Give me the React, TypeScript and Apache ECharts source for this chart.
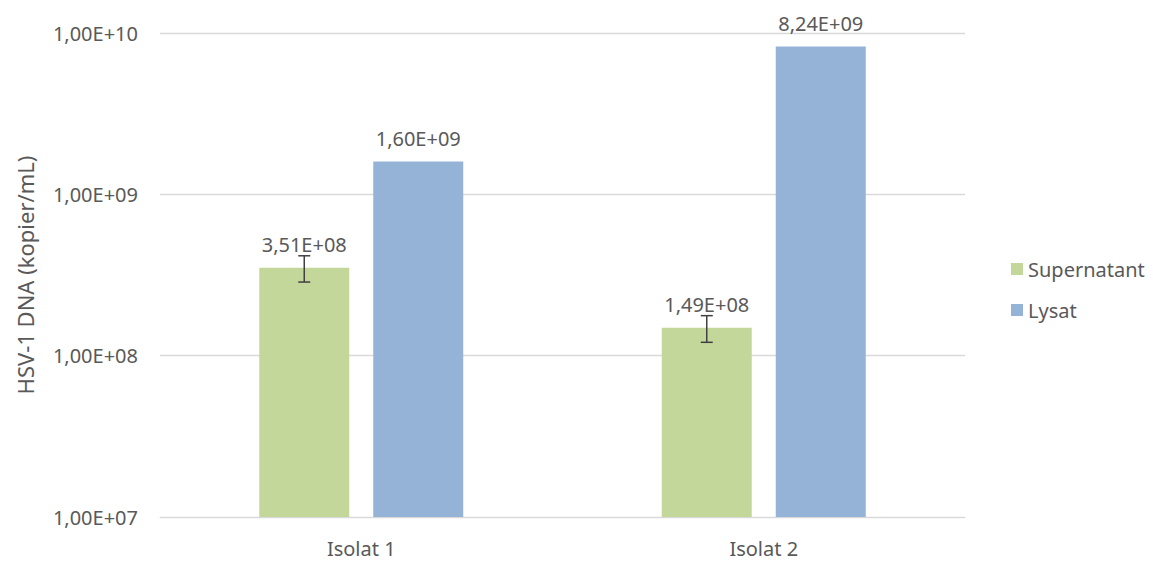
import React, { useEffect, useRef } from "react";
import * as echarts from "echarts";

const categories = ["Isolat 1", "Isolat 2"];
const supernatant = [3.51e8, 1.49e8];
const lysat = [1.6e9, 8.24e9];
const supernatantErr = [0.65e8, 0.28e8];
const seriesNames = ["Supernatant", "Lysat"];
const yTicks = [1e7, 1e8, 1e9, 1e10];

const FONT = "'Noto Sans', sans-serif";
const TEXT = "#595959";
const FS = 20;
const BAR_W = 90;
const BAR_GAP = 24;

function fmtSci(v: number): string {
  const e = Math.floor(Math.log10(v) + 1e-9);
  const m = v / Math.pow(10, e);
  const ms = m.toFixed(2).replace(".", ",");
  const es = (e < 10 ? "0" : "") + e;
  return ms + "E+" + es;
}

export default function App() {
  const ref = useRef<HTMLDivElement>(null);
  useEffect(() => {
    if (!ref.current) return;
    const chart = echarts.init(ref.current, undefined, { renderer: "svg" });
    const errData = categories.map((_, i) => [i, supernatant[i] - supernatantErr[i], supernatant[i] + supernatantErr[i]]);
    chart.setOption({
      animation: false,
      textStyle: { fontFamily: FONT },
      grid: { left: 160, right: 188, top: 33, bottom: 44 },
      legend: {
        orient: "vertical",
        left: 1006,
        top: 254,
        itemWidth: 12,
        itemHeight: 12,
        itemGap: 21,
        icon: "rect",
        textStyle: { color: TEXT, fontSize: FS, fontFamily: FONT },
        data: seriesNames,
      },
      xAxis: {
        type: "category",
        data: categories,
        axisLine: { lineStyle: { color: "#d9d9d9", width: 1 } },
        axisTick: { show: false },
        axisLabel: { color: TEXT, fontSize: FS, margin: 21, fontFamily: FONT },
      },
      yAxis: {
        type: "log",
        logBase: 10,
        min: yTicks[0],
        max: yTicks[yTicks.length - 1],
        name: "HSV-1 DNA (kopier/mL)",
        nameLocation: "middle",
        nameGap: 124,
        nameTextStyle: { color: TEXT, fontSize: 22, fontFamily: FONT },
        axisLine: { show: false },
        axisTick: { show: false },
        splitLine: { lineStyle: { color: "#d9d9d9", width: 1.3 } },
        axisLabel: {
          color: TEXT,
          fontSize: FS,
          margin: 22,
          fontFamily: FONT,
          formatter: (v: number) => fmtSci(v),
        },
      },
      series: [
        {
          name: seriesNames[0],
          type: "bar",
          data: supernatant,
          barWidth: BAR_W,
          barGap: (BAR_GAP / BAR_W) * 100 + "%",
          itemStyle: { color: "#C4D79B" },
          label: {
            show: true,
            position: "top",
            distance: 13,
            color: TEXT,
            fontSize: FS,
            fontFamily: FONT,
            formatter: (p: any) => fmtSci(p.value),
          },
        },
        {
          name: seriesNames[1],
          type: "bar",
          data: lysat,
          barWidth: BAR_W,
          itemStyle: { color: "#95B3D7" },
          label: {
            show: true,
            position: "top",
            distance: 13,
            color: TEXT,
            fontSize: FS,
            fontFamily: FONT,
            formatter: (p: any) => fmtSci(p.value),
          },
        },
        {
          type: "custom",
          name: "err",
          data: errData,
          z: 10,
          renderItem: (params: any, api: any) => {
            const idx = api.value(0);
            const lo = api.coord([idx, api.value(1)]);
            const hi = api.coord([idx, api.value(2)]);
            const x = lo[0] - (BAR_W + BAR_GAP) / 2;
            const cap = 6;
            const style = { stroke: "#404040", lineWidth: 1.5 };
            return {
              type: "group",
              children: [
                { type: "line", shape: { x1: x, y1: hi[1], x2: x, y2: lo[1] }, style },
                { type: "line", shape: { x1: x - cap, y1: hi[1], x2: x + cap, y2: hi[1] }, style },
                { type: "line", shape: { x1: x - cap, y1: lo[1], x2: x + cap, y2: lo[1] }, style },
              ],
            };
          },
        },
      ],
    });
    return () => chart.dispose();
  }, []);
  return <div ref={ref} style={{ width: 1153, height: 561, position: "absolute", left: 0, top: 0, background: "#fff" }} />;
}
